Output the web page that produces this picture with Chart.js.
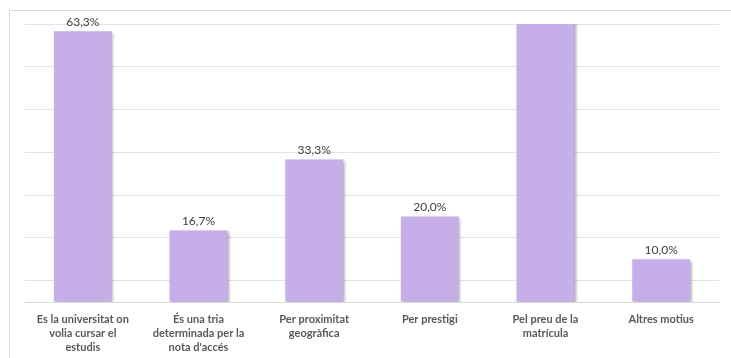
<!DOCTYPE html>
<html>
<head>
<meta charset="utf-8">
<script src="https://cdn.jsdelivr.net/npm/chart.js@4"></script>
<style>
  html, body { margin: 0; padding: 0; background: #fff; overflow: hidden; }
  #wrap { position: relative; width: 731px; height: 358px; }
  #frame { position: absolute; left: 9px; top: 10px; width: 740px; height: 360px; border: 1px solid #d9d9d9; }
  canvas { position: absolute; left: 0; top: 0; }
</style>
</head>
<body>
<div id="wrap">
  <div id="frame"></div>
  <canvas id="chart" width="731" height="358"></canvas>
</div>
<script>
// ── Data ──────────────────────────────────────────────────────────────
const categories = [
  ['Es la universitat on', 'volia cursar el', 'estudis'],
  ['És una tria', 'determinada per la', "nota d'accés"],
  ['Per proximitat', 'geogràfica'],
  ['Per prestigi'],
  ['Pel preu de la', 'matrícula'],
  ['Altres motius']
];
const percentages = [63.3, 16.7, 33.3, 20.0, 66.7, 10.0];
const gridValues = [0, 5, 15, 25, 35, 45, 55, 65];
const axisMax = 65;

// ── Plugins ───────────────────────────────────────────────────────────
const barShadow = {
  id: 'barShadow',
  beforeDatasetsDraw(chart) {
    const ctx = chart.ctx;
    ctx.save();
    ctx.shadowColor = 'rgba(0,0,0,0.35)';
    ctx.shadowBlur = 3;
    ctx.shadowOffsetX = 1.5;
    ctx.shadowOffsetY = 1.5;
  },
  afterDatasetsDraw(chart) {
    chart.ctx.restore();
  }
};

const valueLabels = {
  id: 'valueLabels',
  afterDatasetsDraw(chart) {
    const ctx = chart.ctx;
    const meta = chart.getDatasetMeta(0);
    ctx.save();
    ctx.font = '12px Lato';
    ctx.fillStyle = '#404040';
    ctx.textAlign = 'center';
    ctx.textBaseline = 'bottom';
    meta.data.forEach((bar, i) => {
      const v = percentages[i];
      if (v > axisMax) return; // label falls outside the plot
      ctx.fillText(v.toFixed(1).replace('.', ',') + '%', bar.x, bar.y - 3);
    });
    ctx.restore();
  }
};

// ── Chart ─────────────────────────────────────────────────────────────
new Chart(document.getElementById('chart').getContext('2d'), {
  type: 'bar',
  data: {
    labels: categories,
    datasets: [{
      data: percentages,
      backgroundColor: '#c6aee9',
      borderWidth: 0,
      categoryPercentage: 1,
      barPercentage: 0.5
    }]
  },
  options: {
    responsive: false,
    animation: false,
    layout: { padding: { left: 25, right: 12, top: 24, bottom: 0 } },
    plugins: { legend: { display: false }, tooltip: { enabled: false } },
    scales: {
      x: {
        grid: { display: false, drawTicks: false },
        border: { color: '#d9d9d9', width: 1 },
        ticks: {
          color: '#595959',
          font: { family: 'Lato', size: 11, weight: 'bold', lineHeight: 1.3 },
          padding: 10,
          maxRotation: 0,
          autoSkip: false
        },
        afterFit(scale) { scale.height = 56; }
      },
      y: {
        min: 0,
        max: axisMax,
        afterBuildTicks(scale) { scale.ticks = gridValues.map(v => ({ value: v })); },
        grid: { color: '#e3e3e3', drawTicks: false },
        border: { display: false },
        ticks: { display: false },
        afterFit(scale) { scale.width = 0; }
      }
    }
  },
  plugins: [barShadow, valueLabels]
});
</script>
</body>
</html>
